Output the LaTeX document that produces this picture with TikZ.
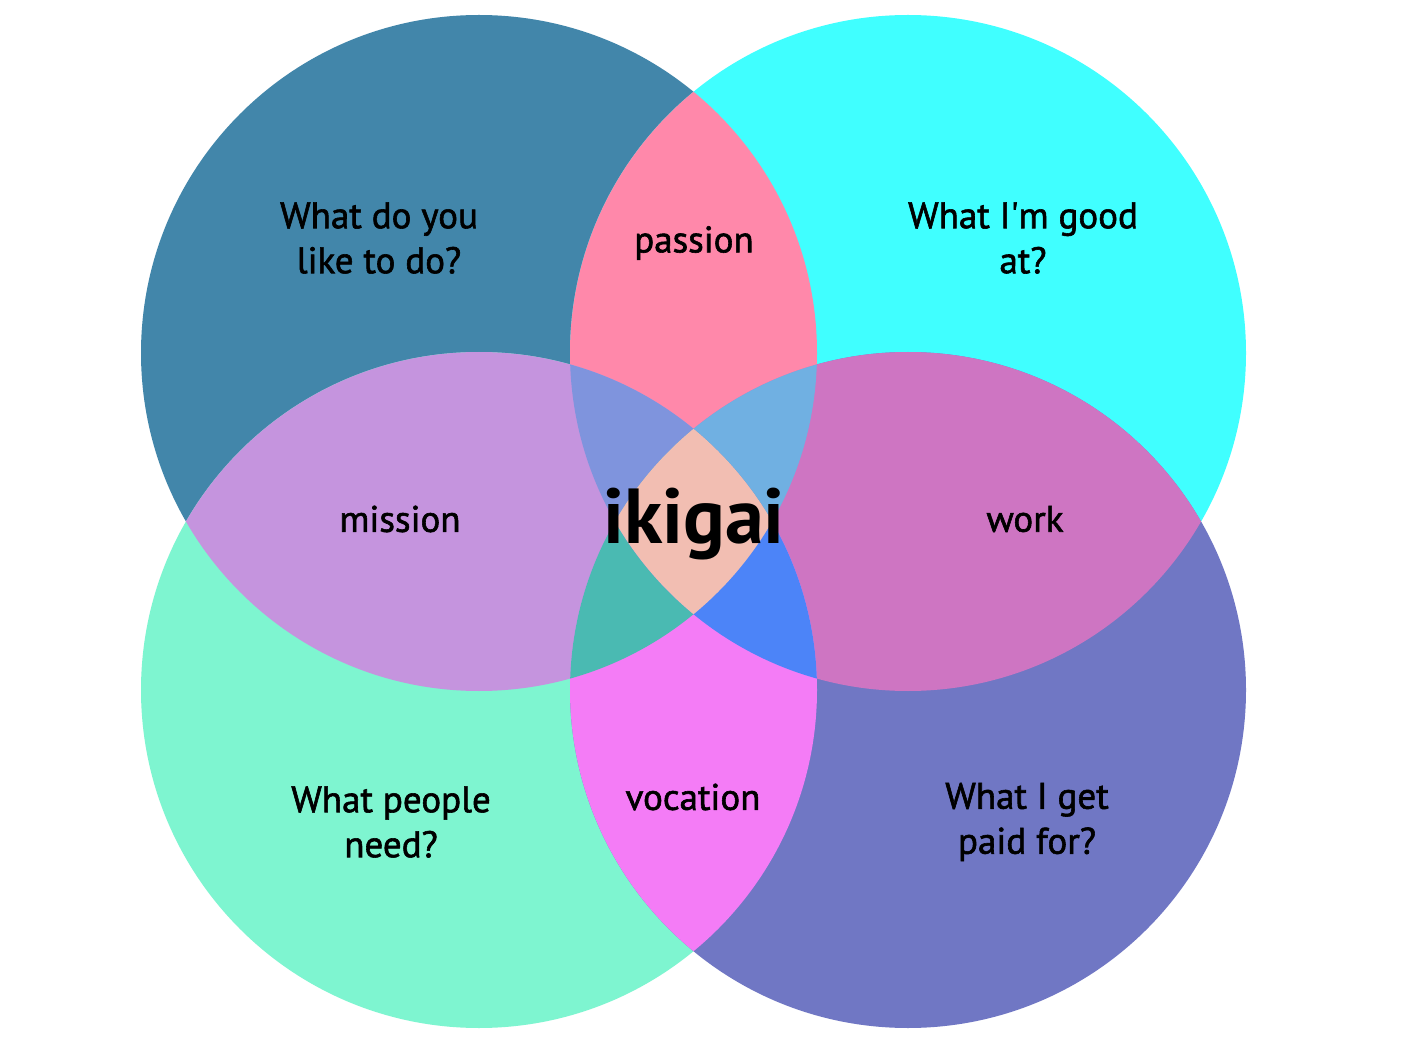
\documentclass[tikz,border=0pt]{standalone}
\usepackage{fontspec}
\setmainfont{PT Sans}
\newfontfamily\lblfont{PT Sans}[FakeBold=1.6]
\newfontfamily\bigfont{PT Sans Bold}
\definecolor{cTL}{RGB}{66,134,170}
\definecolor{cTR}{RGB}{64,255,255}
\definecolor{cBL}{RGB}{126,245,208}
\definecolor{cBR}{RGB}{112,119,196}
\definecolor{cPassion}{RGB}{255,136,170}
\definecolor{cMission}{RGB}{197,148,222}
\definecolor{cWork}{RGB}{206,117,194}
\definecolor{cVocation}{RGB}{244,124,246}
\definecolor{cTLTRBL}{RGB}{127,148,221}
\definecolor{cTLTRBR}{RGB}{112,176,226}
\definecolor{cTLBLBR}{RGB}{74,186,178}
\definecolor{cTRBLBR}{RGB}{76,132,248}
\definecolor{cAll}{RGB}{242,190,178}
\begin{document}
\begin{tikzpicture}[x=1pt,y=-1pt,
  lbl/.style={align=center,font=\lblfont\fontsize{37}{45}\selectfont,inner sep=0pt},
  big/.style={font=\bigfont\fontsize{78}{80}\selectfont,inner sep=0pt}]
\useasboundingbox (0,0) rectangle (1425,1040);
\fill[white] (0,0) rectangle (1425,1040);
\def\R{338pt}
\coordinate (TL) at (479,353);
\coordinate (TR) at (908,353);
\coordinate (BL) at (479,690);
\coordinate (BR) at (908,690);
% single circles
\fill[cTL] (TL) circle[radius=\R];
\fill[cTR] (TR) circle[radius=\R];
\fill[cBL] (BL) circle[radius=\R];
\fill[cBR] (BR) circle[radius=\R];
% pairs
\begin{scope}\clip (TL) circle[radius=\R]; \fill[cPassion] (TR) circle[radius=\R];\end{scope}
\begin{scope}\clip (TL) circle[radius=\R]; \fill[cMission] (BL) circle[radius=\R];\end{scope}
\begin{scope}\clip (TR) circle[radius=\R]; \fill[cWork] (BR) circle[radius=\R];\end{scope}
\begin{scope}\clip (BL) circle[radius=\R]; \fill[cVocation] (BR) circle[radius=\R];\end{scope}
% triples
\begin{scope}\clip (TL) circle[radius=\R]; \clip (TR) circle[radius=\R]; \fill[cTLTRBL] (BL) circle[radius=\R];\end{scope}
\begin{scope}\clip (TL) circle[radius=\R]; \clip (TR) circle[radius=\R]; \fill[cTLTRBR] (BR) circle[radius=\R];\end{scope}
\begin{scope}\clip (TL) circle[radius=\R]; \clip (BL) circle[radius=\R]; \fill[cTLBLBR] (BR) circle[radius=\R];\end{scope}
\begin{scope}\clip (TR) circle[radius=\R]; \clip (BL) circle[radius=\R]; \fill[cTRBLBR] (BR) circle[radius=\R];\end{scope}
% all four
\begin{scope}\clip (TL) circle[radius=\R]; \clip (TR) circle[radius=\R]; \clip (BL) circle[radius=\R]; \fill[cAll] (BR) circle[radius=\R];\end{scope}
% labels
\node[lbl] (q1) at (379,238) {What do you\\like to do?};
\node[lbl] (q2) at (1023,238) {What I\textquotesingle m good\\at?};
\node[lbl] (q3) at (391,822) {What people\\need?};
\node[lbl] (q4) at (1027,822) {What I get\\paid for?};
\node[lbl] (passion) at (694,243) {passion};
\node[lbl] (mission) at (400,519) {mission};
\node[lbl] (work) at (1025,519) {work};
\node[lbl] (vocation) at (693,797) {vocation};
\node[big] (ikigai) at (694,524) {ikigai};
\end{tikzpicture}
\end{document}
